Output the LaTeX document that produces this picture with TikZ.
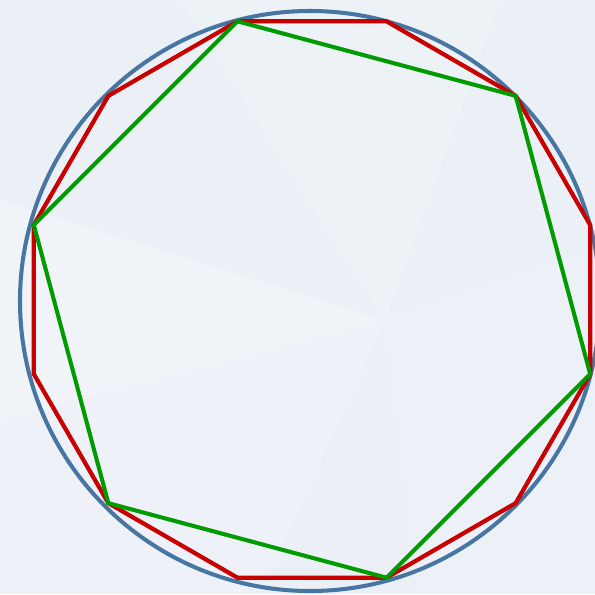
\documentclass[tikz,border=0pt]{standalone}
\usepackage{tikz}
\usetikzlibrary{calc}
\definecolor{bgcol}{RGB}{235,240,246}
\definecolor{facetcol}{RGB}{244,247,251}
\definecolor{ringcol}{RGB}{72,118,163}
\definecolor{dodecol}{RGB}{200,0,0}
\definecolor{hexcol}{RGB}{0,155,0}
\tikzset{
  facet/.style={fill=facetcol,draw=none,opacity=0.6},
  ring/.style={draw=ringcol,line width=1.15pt},
  dodeca/.style={draw=dodecol,line width=1.2pt,line join=miter},
  hexa/.style={draw=hexcol,line width=1.15pt,line join=miter},
}
\begin{document}
\begin{tikzpicture}[x=0.01cm,y=-0.01cm]
  % background
  \fill[bgcol] (0,0) rectangle (595,594);
  \useasboundingbox (0,0) rectangle (595,594);
  \fill[facet] (0,200) -- (385,320) -- (0,420) -- cycle;
  \fill[facet,opacity=0.4] (0,420) -- (385,320) -- (260,594) -- (0,594) -- cycle;
  \fill[facet,opacity=0.3] (180,0) -- (385,320) -- (500,0) -- cycle;
  \fill[facet,opacity=0.2] (385,320) -- (595,250) -- (595,594) -- (420,594) -- cycle;
  % circle
  \coordinate (o) at (310,301);
  \draw[ring] (o) circle[radius=290];
  % vertices of the dodecagon
  \coordinate (c) at (312,299.5);
  \foreach \k in {0,...,11}
    \coordinate (v\k) at ($(c)+({15+30*\k}:288)$);
  \draw[dodeca] (v0) -- (v1) -- (v2) -- (v3) -- (v4) -- (v5) -- (v6)
    -- (v7) -- (v8) -- (v9) -- (v10) -- (v11) -- cycle;
  \draw[hexa] (v0) -- (v2) -- (v4) -- (v6) -- (v8) -- (v10) -- cycle;
\end{tikzpicture}
\end{document}
